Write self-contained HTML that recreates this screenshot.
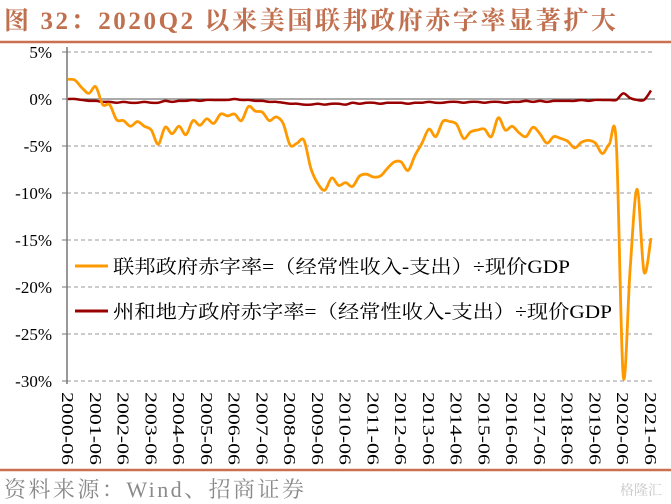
<!DOCTYPE html>
<html><head><meta charset="utf-8"><style>
body{margin:0;background:#fff;}
svg{display:block;font-family:"Liberation Serif","Noto Serif CJK SC",serif;}
</style></head><body>
<svg id="c" width="671" height="504" viewBox="0 0 671 504" xmlns="http://www.w3.org/2000/svg">
<text x="4" y="29" font-size="25" font-weight="bold" fill="#c0704f" textLength="612">图 32：2020Q2 以来美国联邦政府赤字率显著扩大</text>
<line x1="0" y1="42" x2="671" y2="42" stroke="#c8704f" stroke-width="2.5"/>
<g id="grid"></g>
<g id="yaxis"></g>
<g id="xaxis"></g>
<g id="series"></g>
<g>
<line x1="75" y1="266" x2="108" y2="266" stroke="#ff9900" stroke-width="3"/>
<text x="113" y="273" font-size="19" textLength="457" lengthAdjust="spacingAndGlyphs">联邦政府赤字率=（经常性收入-支出）÷现价GDP</text>
<line x1="75" y1="311" x2="108" y2="311" stroke="#990000" stroke-width="3"/>
<text x="113" y="318" font-size="19" textLength="499" lengthAdjust="spacingAndGlyphs">州和地方政府赤字率=（经常性收入-支出）÷现价GDP</text>
</g>
<line x1="0" y1="470" x2="671" y2="470" stroke="#c8704f" stroke-width="2.5"/>
<text x="4" y="497" font-size="22" fill="#8a8a8a" textLength="300">资料来源：Wind、招商证券</text>
<text x="620" y="495" font-size="14" fill="#c8c8c8">格隆汇</text>
</svg>
<script>
const yTicks=[5,0,-5,-10,-15,-20,-25,-30];
const yTickLabels=["5%","0%","-5%","-10%","-15%","-20%","-25%","-30%"];
const xTickLabels=["2000-06","2001-06","2002-06","2003-06","2004-06","2005-06","2006-06","2007-06","2008-06","2009-06","2010-06","2011-06","2012-06","2013-06","2014-06","2015-06","2016-06","2017-06","2018-06","2019-06","2020-06","2021-06"];
const federal=[2.1,2.0,1.2,0.6,1.3,-0.6,-0.6,-2.2,-2.3,-2.9,-2.4,-2.9,-3.3,-4.8,-3.0,-3.7,-2.9,-3.8,-2.3,-2.8,-2.1,-2.6,-1.6,-1.8,-1.6,-2.3,-0.8,-1.3,-1.4,-2.3,-1.9,-2.6,-4.9,-4.7,-4.4,-7.4,-9.0,-9.7,-8.4,-9.2,-8.9,-9.3,-8.2,-8.0,-8.3,-8.2,-7.4,-6.7,-6.7,-7.6,-6.0,-4.7,-3.2,-4.0,-2.4,-2.4,-2.7,-4.2,-3.5,-3.3,-3.2,-4.0,-2.0,-3.3,-2.9,-3.6,-4.0,-3.0,-3.7,-4.7,-4.0,-4.2,-4.5,-5.2,-4.6,-4.4,-4.7,-5.8,-4.8,-4.7,-29.5,-18.0,-9.6,-18.4,-14.8];
const stateLocal=[0.0,0.0,-0.1,-0.2,-0.2,-0.3,-0.3,-0.4,-0.3,-0.4,-0.4,-0.3,-0.4,-0.4,-0.2,-0.3,-0.2,-0.2,-0.1,-0.2,-0.1,-0.1,-0.1,-0.1,0.0,-0.1,-0.1,-0.2,-0.2,-0.3,-0.3,-0.4,-0.5,-0.5,-0.6,-0.6,-0.5,-0.6,-0.5,-0.5,-0.6,-0.4,-0.5,-0.4,-0.4,-0.5,-0.4,-0.4,-0.4,-0.5,-0.4,-0.4,-0.3,-0.4,-0.4,-0.3,-0.3,-0.4,-0.3,-0.3,-0.4,-0.3,-0.3,-0.4,-0.3,-0.3,-0.2,-0.3,-0.2,-0.3,-0.2,-0.2,-0.2,-0.2,-0.1,-0.2,-0.1,-0.1,-0.1,-0.1,0.6,0.1,-0.1,-0.1,0.9];
const NS="http://www.w3.org/2000/svg";
const x0=68,x1=651,y0=99,pxPer=9.4;
function xq(i){return x0+(x1-x0)*i/(federal.length-1);}
function yv(v){return y0-v*pxPer;}
function mk(tag,attrs,parent){const e=document.createElementNS(NS,tag);for(const k in attrs)e.setAttribute(k,attrs[k]);parent.appendChild(e);return e;}
const grid=document.getElementById('grid'),ya=document.getElementById('yaxis'),xa=document.getElementById('xaxis'),ser=document.getElementById('series');
yTicks.forEach((t,i)=>{
  const y=yv(t);
  if(t!==0){const g=mk('line',{x1:67,y1:y,x2:655,y2:y,stroke:'#999','stroke-dasharray':'4,3','stroke-width':1},grid);
  
  }
  const tk=mk('line',{x1:62,y1:y,x2:67,y2:y,stroke:'#777'},ya);
  
  
  const tx=mk('text',{x:52,y:y+6,'font-size':17,'text-anchor':'end'},ya);
  tx.textContent=yTickLabels[i];
  
  
});
const ax=mk('line',{x1:67,y1:47,x2:67,y2:384,stroke:'#777','stroke-width':1.5},ya);


const zl=mk('line',{x1:67,y1:yv(0),x2:655,y2:yv(0),stroke:'#555','stroke-width':1},ya);


xTickLabels.forEach((l,i)=>{
  const x=xq(i*4);
  const t=mk('text',{x:0,y:0,'font-size':17,textLength:73,lengthAdjust:'spacingAndGlyphs',transform:`translate(${x-6},392) rotate(90)`},xa);
  t.textContent=l;
  
  
});
function path(arr){
  const p=arr.map((v,i)=>[xq(i),yv(v)]);
  let d=`M${p[0][0]},${p[0][1]}`;
  for(let i=0;i<p.length-1;i++){
    const a=p[i-1]||p[i],b=p[i],c=p[i+1],e=p[i+2]||c;
    d+=` C${b[0]+(c[0]-a[0])/6},${b[1]+(c[1]-a[1])/6} ${c[0]-(e[0]-b[0])/6},${c[1]-(e[1]-b[1])/6} ${c[0]},${c[1]}`;
  }
  return d;
}
const s2=mk('path',{d:path(stateLocal),fill:'none',stroke:'#990000','stroke-width':2.5},ser);


const s1=mk('path',{d:path(federal),fill:'none',stroke:'#ff9900','stroke-width':2.8},ser);


</script>
</body></html>
